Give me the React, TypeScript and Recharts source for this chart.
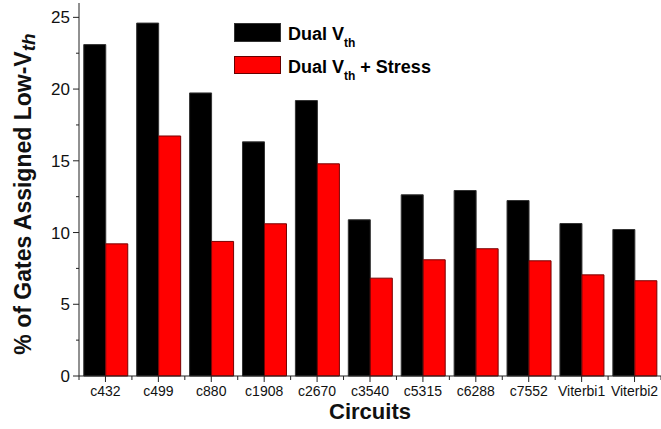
import { BarChart, Bar, XAxis, YAxis } from "recharts"

const circuits = ["c432", "c499", "c880", "c1908", "c2670", "c3540", "c5315", "c6288", "c7552", "Viterbi1", "Viterbi2"]
const dualVth = [23.1, 24.6, 19.73, 16.32, 19.2, 10.89, 12.63, 12.93, 12.23, 10.63, 10.21]
const dualVthStress = [9.21, 16.73, 9.38, 10.61, 14.79, 6.82, 8.1, 8.87, 8.03, 7.05, 6.64]
const yTicks = [0, 2.5, 5, 7.5, 10, 12.5, 15, 17.5, 20, 22.5, 25]

const data = circuits.map((name, i) => ({
  name,
  dual: dualVth[i],
  stress: dualVthStress[i],
}))

const W = 661
const H = 429
const LEFT = 79
const BOTTOM = 53
const HALF_BAND = (W - LEFT) / circuits.length / 2
const FONT = "'Liberation Sans', Arial, Helvetica, sans-serif"

function YTick(props: any) {
  const { x, y, payload } = props
  const major = payload.value % 5 === 0
  return (
    <g>
      <line x1={x - (major ? 6 : 3)} x2={x} y1={y} y2={y} stroke="#222" strokeWidth={1} />
      {major && (
        <text x={x - 9} y={y} dy="0.36em" textAnchor="end" fontSize={17} fill="#111" fontFamily={FONT}>
          {payload.value}
        </text>
      )}
    </g>
  )
}

function XTick(props: any) {
  const { x, y, payload, index } = props
  return (
    <g>
      <line x1={x} x2={x} y1={y} y2={y + 6} stroke="#222" strokeWidth={1} />
      <line x1={x - HALF_BAND} x2={x - HALF_BAND} y1={y} y2={y + 4} stroke="#222" strokeWidth={1} />
      {index === circuits.length - 1 && (
        <line x1={x + HALF_BAND} x2={x + HALF_BAND} y1={y} y2={y + 4} stroke="#222" strokeWidth={1} />
      )}
      <text x={x} y={y + 20} textAnchor="middle" fontSize={14} fill="#111" fontFamily={FONT}>
        {payload.value}
      </text>
    </g>
  )
}

function YTitle() {
  return (
    <text
      transform="translate(31, 194) rotate(-90)"
      textAnchor="middle"
      fontSize={23}
      fontWeight="bold"
      fill="#111"
      fontFamily={FONT}
    >
      % of Gates Assigned Low-V
      <tspan fontStyle="italic" fontSize={19} dy={4}>th</tspan>
    </text>
  )
}

function XTitle() {
  return (
    <text x={370} y={419} textAnchor="middle" fontSize={22} fontWeight="bold" fill="#111" fontFamily={FONT}>
      Circuits
    </text>
  )
}

function LegendBox() {
  return (
    <svg width={W} height={90} style={{ position: "absolute", left: 0, top: 0, pointerEvents: "none" }}>
      <rect x={234.5} y={23.5} width={46} height={18} fill="#000" stroke="#333" />
      <text x={288} y={40} fontSize={18} fontWeight="bold" fontFamily={FONT} fill="#000">
        Dual V<tspan fontSize={12} dy={7}>th</tspan>
      </text>
      <rect x={234.5} y={56.5} width={46} height={17} fill="#ff0000" stroke="#600" />
      <text x={288} y={72.5} fontSize={18} fontWeight="bold" fontFamily={FONT} fill="#000">
        Dual V<tspan fontSize={12} dy={7}>th</tspan>
        <tspan dy={-7}> + Stress</tspan>
      </text>
    </svg>
  )
}

export default function App() {
  return (
    <div style={{ position: "absolute", left: 0, top: 0, width: W, height: H, background: "#fff" }}>
      <BarChart
        width={W}
        height={H}
        data={data}
        margin={{ top: 3, right: 0, left: 0, bottom: 0 }}
        barCategoryGap="9%"
        barGap={0}
      >
        <XAxis
          dataKey="name"
          height={BOTTOM}
          axisLine={{ stroke: "#222" }}
          tickLine={false}
          tickSize={0}
          tickMargin={0}
          interval={0}
          tick={<XTick />}
          label={<XTitle />}
        />
        <YAxis
          width={LEFT}
          domain={[0, 26]}
          ticks={yTicks}
          axisLine={{ stroke: "#222" }}
          tickLine={false}
          tickSize={0}
          tickMargin={0}
          tick={<YTick />}
          label={<YTitle />}
        />
        <Bar dataKey="dual" fill="#000" stroke="#333" strokeWidth={1} isAnimationActive={false} />
        <Bar dataKey="stress" fill="#ff0000" stroke="#700" strokeWidth={1} isAnimationActive={false} />
      </BarChart>
      <LegendBox />
    </div>
  )
}
